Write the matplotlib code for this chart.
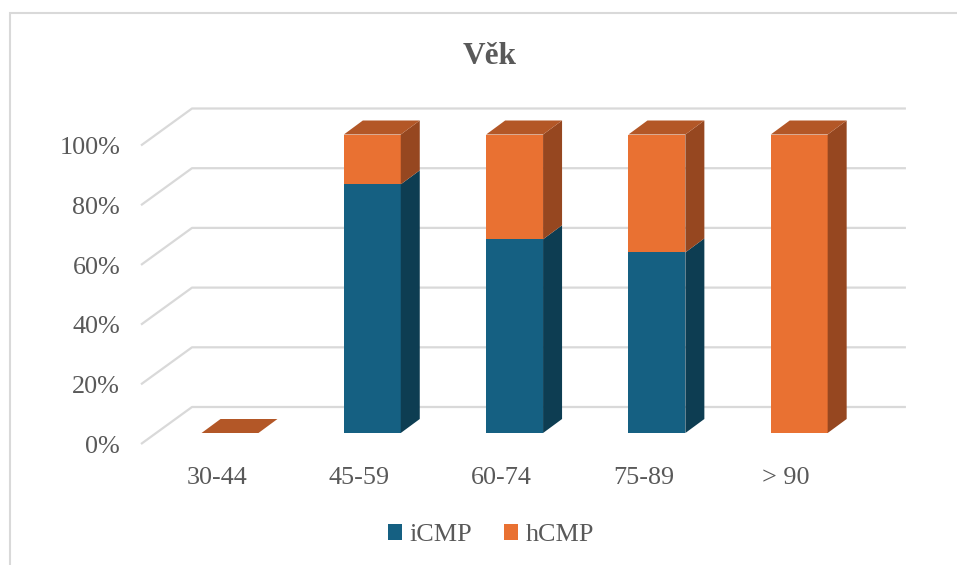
import matplotlib.pyplot as plt
from matplotlib.patches import Polygon, Patch, Rectangle

plt.rcParams['font.family'] = ['Liberation Serif', 'DejaVu Serif']

# age groups and share of each type (percent of the group)
categories = ['30-44', '45-59', '60-74', '75-89', '> 90']
icmp = [0.0, 83.3, 64.9, 60.5, 0.0]
hcmp = [0.0, 16.7, 35.1, 39.5, 100.0]
yticks = [0, 20, 40, 60, 80, 100]
ytick_labels = ['0%', '20%', '40%', '60%', '80%', '100%']

text_color = '#595959'
grid_color = '#D9D9D9'
series = [
    # name, values, front, side, top
    ('iCMP', icmp, '#156082', '#0D3D52', '#11506C'),
    ('hCMP', hcmp, '#E97132', '#964720', '#B35727'),
]

# oblique projection: one category = 142.3 px, 100 % = 298.5 px
W, H = 957, 565
px_x = 142.3
px_y = 2.985
bar_w = 0.4
depth_x = 19 / px_x          # bar depth
depth_y = 14 / px_y
wall_x, wall_y = 37 / px_x, 26 / px_y       # back wall relative to bar fronts
floor_x, floor_y = -14 / px_x, -11 / px_y   # front edge of the floor

fig = plt.figure(figsize=(W / 100, H / 100), dpi=100)
ax = fig.add_axes([0, 0, 1, 1])
ax.set_xlim(-230 / px_x, (W - 230) / px_x)
ax.set_ylim((433 - H) / px_y, 433 / px_y)
ax.axis('off')

# chart frame
fig.patches.append(Rectangle((10 / W, -0.1), 1.2, 1.1 - 13 / H, transform=fig.transFigure,
                             fill=False, edgecolor=grid_color, lw=1.5))

# gridlines on the back wall plus the diagonal on the left side wall
wall_left = -0.267
wall_right = 4.75
left_front = wall_left - (wall_x - floor_x)
for t in yticks:
    ax.plot([left_front, wall_left, wall_right],
            [t + floor_y, t + wall_y, t + wall_y],
            color=grid_color, lw=1.6, solid_capstyle='butt', zorder=1)

for t, lab in zip(yticks, ytick_labels):
    ax.text(-0.772, t + floor_y - 0.9, lab, ha='right', va='center',
            fontsize=18.8, color=text_color)

# stacked 3-D columns
x = list(range(len(categories)))
bottom = [0.0] * len(categories)
for name, vals, front, side, top in series:
    ax.bar(x, vals, width=bar_w, bottom=bottom, color=front, lw=0, zorder=3, label=name)
    for i, (b, v) in enumerate(zip(bottom, vals)):
        if v <= 0:
            continue
        xr = i + bar_w / 2
        ax.add_patch(Polygon([(xr, b), (xr, b + v), (xr + depth_x, b + v + depth_y),
                              (xr + depth_x, b + depth_y)],
                             closed=True, facecolor=side, lw=0, zorder=3))
    bottom = [b + v for b, v in zip(bottom, vals)]

# top faces use the colour of the top series
top_color = series[-1][4]
for i, tot in enumerate(bottom):
    xl, xr = i - bar_w / 2, i + bar_w / 2
    ax.add_patch(Polygon([(xl, tot), (xr, tot), (xr + depth_x, tot + depth_y),
                          (xl + depth_x, tot + depth_y)],
                         closed=True, facecolor=top_color, lw=0, zorder=4))

for i, lab in enumerate(categories):
    ax.text(i - 13 / px_x, -15.1, lab, ha='center', va='center',
            fontsize=18.8, color=text_color)

fig.text(490 / W, 1 - 56 / H, 'Věk', ha='center', va='center',
         fontsize=22.5, fontweight='bold', color=text_color)

handles = [Patch(facecolor=s[2], label=s[0]) for s in series]
fig.legend(handles=handles, loc='center', bbox_to_anchor=(491 / W, 1 - 535 / H),
           ncol=2, frameon=False, fontsize=18.8, handlelength=0.55, handleheight=0.55,
           handletextpad=0.3, columnspacing=1.2, labelcolor=text_color)

fig.savefig('out.png', dpi=100)
